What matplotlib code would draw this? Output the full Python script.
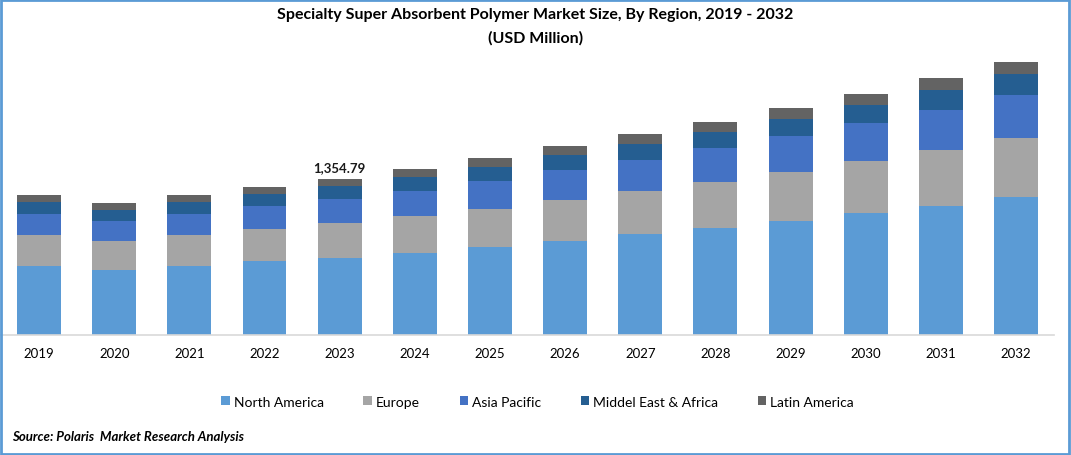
import matplotlib
matplotlib.use("Agg")
import matplotlib.pyplot as plt
from matplotlib.patches import Rectangle, Patch
import numpy as np

plt.rcParams['font.family'] = ['Lato', 'DejaVu Sans']

years = ['2019', '2020', '2021', '2022', '2023', '2024', '2025',
         '2026', '2027', '2028', '2029', '2030', '2031', '2032']
regions = ['North America', 'Europe', 'Asia Pacific',
           'Middel East & Africa', 'Latin America']
colors = ['#5B9BD5', '#A5A5A5', '#4472C4', '#255E91', '#636363']

north_america = [593, 558, 595, 637, 666.5, 709, 762, 811, 872, 925, 986, 1055, 1117, 1195]
europe = [270, 253, 272, 279, 305.3, 323, 331, 358, 375, 401, 427, 454, 488, 515]
asia_pacific = [183, 174, 184, 201, 209.4, 218, 244, 262, 270, 297, 314, 331, 349, 375]
mea = [105, 96, 105, 105, 113.0, 119, 122, 131, 140, 140, 148, 157, 174, 183]
latin_america = [61, 61, 61, 61, 60.6, 72, 78, 78, 87, 87, 96, 96, 105, 105]

label_year = '2023'
label_text = '1,354.79'

series = [north_america, europe, asia_pacific, mea, latin_america]

fig = plt.figure(figsize=(10.71, 4.56), dpi=100)
ax = fig.add_axes([0.0014, 0.2642, 0.9823, 0.604])

x = np.arange(len(years))
bottom = np.zeros(len(years))
for vals, col, name in zip(series, colors, regions):
    ax.bar(x, vals, 0.585, bottom=bottom, color=col, label=name)
    bottom += np.array(vals)

i = years.index(label_year)
ax.text(x[i], bottom[i] + 45, label_text, ha='center', va='bottom',
        fontsize=9.5, fontweight='bold', color='#1a1a1a')

ax.set_xlim(-0.5, len(years) - 0.5)
ax.set_ylim(0, 2395)
ax.set_xticks(x)
ax.set_xticklabels(years, fontsize=9.5)
ax.tick_params(axis='x', length=0, pad=9)
ax.set_yticks([])
for s in ['top', 'right', 'left']:
    ax.spines[s].set_visible(False)
ax.spines['bottom'].set_color('#d9d9d9')
ax.spines['bottom'].set_linewidth(1.2)

fig.text(0.5, 0.967, 'Specialty Super Absorbent Polymer Market Size, By Region, 2019 - 2032',
         ha='center', va='center', fontsize=11.5, fontweight='bold')
fig.text(0.5, 0.917, '(USD Million)', ha='center', va='center',
         fontsize=11.5, fontweight='bold')

handles = [Patch(facecolor=c, edgecolor='none') for c in colors]
fig.legend(handles, regions, loc='center', bbox_to_anchor=(0.502, 0.117), ncol=5,
           frameon=False, fontsize=10, handlelength=0.6, handleheight=0.6,
           handletextpad=0.3, columnspacing=2.85)

fig.text(0.011, 0.042, 'Source: Polaris  Market Research Analysis', ha='left', va='center',
         fontsize=9.5, fontweight='bold', fontstyle='italic')

fig.patches.append(Rectangle((0.001, 0.002), 0.997, 0.995, transform=fig.transFigure,
                             fill=False, edgecolor='#5B9BD5', linewidth=2))

fig.savefig('out.png', dpi=100)
